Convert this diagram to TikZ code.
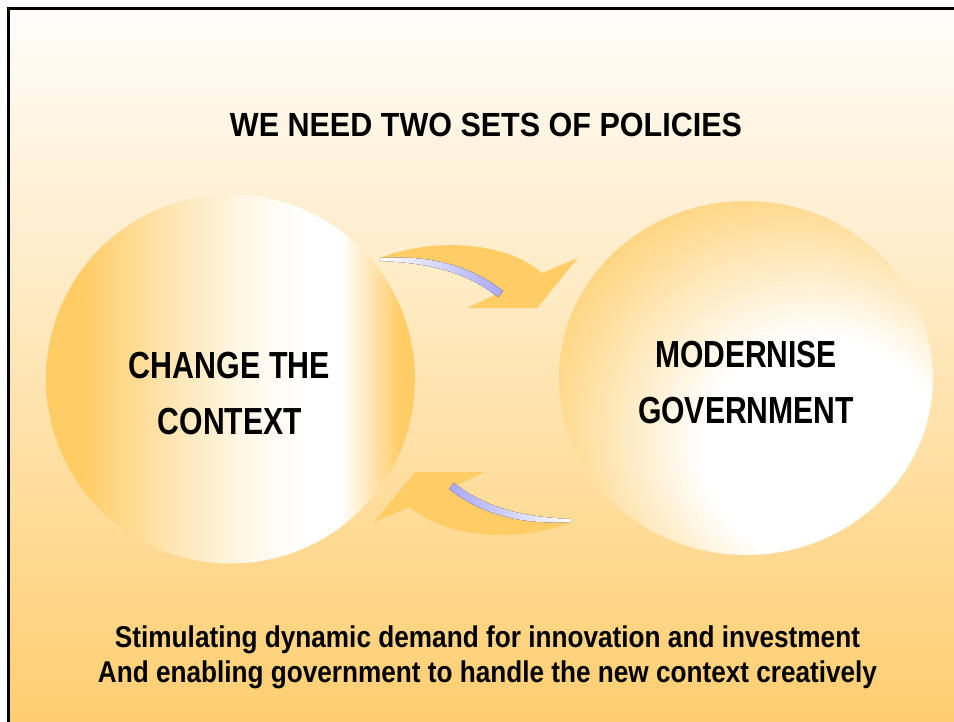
\documentclass[tikz,border=0pt]{standalone}
\usepackage{fontspec}
\setmainfont{Liberation Sans}
\usepackage{graphicx}
\usetikzlibrary{shapes.geometric}

\definecolor{ballorange}{RGB}{255,204,102}
\definecolor{arroworange}{RGB}{255,204,102}
\definecolor{slidetop}{RGB}{255,253,250}
\definecolor{slidemid}{RGB}{255,232,194}
\definecolor{slidebottom}{RGB}{255,205,110}
\definecolor{edgeblue}{RGB}{168,168,255}
\colorlet{ballhalf}{ballorange!50!white}
\colorlet{ballpale}{ballorange!15!white}

% left ball: orange at the left, a white band right of centre, orange rim on the right
\pgfdeclarehorizontalshading{leftball}{100bp}{color(0bp)=(ballorange); color(30bp)=(ballorange); color(42bp)=(ballhalf); color(52bp)=(ballpale); color(60bp)=(white); color(65bp)=(white); color(73bp)=(ballorange); color(100bp)=(ballorange)}
% right ball: white highlight low and right, orange towards the upper left
\pgfdeclareradialshading{rightball}{\pgfpoint{15bp}{-15bp}}{color(0bp)=(white); color(16bp)=(white); color(36bp)=(ballorange); color(50bp)=(ballorange)}

% stretch or squeeze a line of text to a given width, keeping its height
\newcommand\fitw[2]{\resizebox{#1}{\height}{#2}}

\begin{document}
\begin{tikzpicture}[x=1pt,y=-1pt,
  txt/.style={inner sep=0pt, anchor=base},
  titlefont/.style={font=\bfseries\fontsize{33.5}{40}\selectfont},
  ballfont/.style={font=\bfseries\fontsize{37.7}{44}\selectfont},
  notefont/.style={font=\bfseries\fontsize{30}{36}\selectfont},
  bigarrow/.style={fill=arroworange, draw=none},
]
\useasboundingbox (0,0) rectangle (954,721);
\clip (0,0) rectangle (954,721);
\fill[white] (0,0) rectangle (954,721);

% slide background with its frame
\path[top color=slidetop, middle color=slidemid, bottom color=slidebottom,
      draw=black, line width=2.7pt] (8.3,8.3) rectangle (968,735);

% the two balls
\node[circle, minimum size=369pt, inner sep=0pt, shading=leftball] (context) at (230.5,379) {};
\node[ellipse, minimum width=374pt, minimum height=354pt, inner sep=0pt, shading=rightball] (govt) at (746,378) {};

% upper curved arrow, from the left ball to the right ball
\coordinate (tA) at (380,258);
\coordinate (nA) at (542,273);
\coordinate (bA1) at (578,258);
\coordinate (pA) at (537,308);
\coordinate (bA2) at (467,308);
\coordinate (iA) at (503,291);
\fill[bigarrow] (tA) .. controls (430,238) and (505,240) .. (nA) -- (bA1) -- (pA) -- (bA2) -- (iA)
      .. controls (470,265) and (430,255) .. (tA) -- cycle;
\fill[left color=white, right color=edgeblue] (tA) .. controls (430,255) and (470,265) .. (iA)
      -- (498,297) .. controls (466,272) and (430,263) .. (381,261) -- cycle;

% lower curved arrow, from the right ball back to the left ball
\coordinate (tB) at (572,522);
\coordinate (nB) at (410,507);
\coordinate (bB1) at (374,522);
\coordinate (pB) at (415,472);
\coordinate (bB2) at (485,472);
\coordinate (iB) at (449,489);
\fill[bigarrow] (tB) .. controls (522,542) and (447,540) .. (nB) -- (bB1) -- (pB) -- (bB2) -- (iB)
      .. controls (482,515) and (522,525) .. (tB) -- cycle;
\fill[left color=edgeblue, right color=white] (tB) .. controls (522,525) and (482,515) .. (iB)
      -- (454,483) .. controls (486,508) and (522,517) .. (571,519) -- cycle;

% texts
\node[txt, titlefont] (title) at (486,136) {\fitw{512pt}{WE NEED TWO SETS OF POLICIES}};
\node[txt, ballfont] (ctxA) at (229.5,378) {\fitw{201pt}{CHANGE THE}};
\node[txt, ballfont] (ctxB) at (230,434) {\fitw{144pt}{CONTEXT}};
\node[txt, ballfont] (govA) at (746,367) {\fitw{182pt}{MODERNISE}};
\node[txt, ballfont] (govB) at (746,423) {\fitw{216pt}{GOVERNMENT}};
\node[txt, notefont] (noteA) at (487.5,647) {\fitw{745pt}{Stimulating dynamic demand for innovation and investment}};
\node[txt, notefont] (noteB) at (487.5,682) {\fitw{779pt}{And enabling government to handle the new context creatively}};
\end{tikzpicture}
\end{document}
